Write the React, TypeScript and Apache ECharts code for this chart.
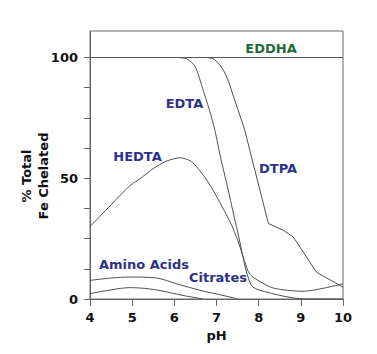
import React, { useEffect, useRef } from "react";
import * as echarts from "echarts";

const xTicks = [4, 5, 6, 7, 8, 9, 10];
const yLabelValues = [0, 50, 100];
const yTickValues = [0, 12.5, 25, 37.5, 50, 62.5, 75, 87.5, 100];

const eddha: [number, number][] = [[4, 100], [10, 100]];
const edta: [number, number][] = [
  [6.13, 100], [6.3, 99.4], [6.49, 96.4], [6.68, 86.7], [6.83, 78.4], [6.96, 70],
  [7.11, 57.6], [7.24, 48], [7.5, 28], [7.83, 5.6], [8.34, 2.2], [8.8, 0.5], [9.13, 0], [10, 0],
];
const hedta: [number, number][] = [
  [4, 30], [4.5, 39], [4.95, 47], [5.2, 50], [5.5, 54], [5.8, 57], [6.13, 58.5], [6.4, 57],
  [6.7, 51], [6.92, 45], [7.32, 32], [7.51, 24], [7.75, 11.5], [7.87, 9], [8.34, 4.6],
  [9.05, 3.2], [10, 6.3],
];
const dtpa: [number, number][] = [
  [6.8, 100], [6.92, 99.6], [7.0, 98.5], [7.1, 96.5], [7.2, 93.6], [7.3, 89.5], [7.4, 84],
  [7.51, 78.4], [7.67, 70], [7.87, 56], [7.91, 53.4], [8.23, 31.3], [8.58, 28.5], [8.82, 25.7],
  [8.98, 21.5], [9.37, 11.1], [10, 4.9],
];
const aminoAcids: [number, number][] = [
  [4, 7.7], [4.5, 8.7], [4.95, 9.1], [5.58, 8.7], [6.05, 6.3], [6.68, 3.3], [7.08, 1.8],
  [7.32, 0.8], [7.5, 0],
];
const citrates: [number, number][] = [
  [4, 2.2], [4.5, 3.8], [4.95, 4.7], [5.3, 4.4], [5.66, 3.5], [6.2, 1.5], [6.68, 0],
];

const FONT = "DejaVu Sans";
const LINE = "#505050";
const BLUE = "#2d3188";
const GREEN = "#1d6b3a";

export default function App() {
  const ref = useRef<HTMLDivElement>(null);
  useEffect(() => {
    if (!ref.current) return;
    const chart = echarts.init(ref.current, undefined, { renderer: "svg" });
    const lineSeries = (name: string, data: [number, number][], smooth: number | boolean) => ({
      name,
      type: "line",
      data,
      smooth,
      showSymbol: false,
      symbol: "none",
      lineStyle: { color: LINE, width: 1 },
      z: 3,
    });
    const label = (text: string, x: number, y: number, color: string) => ({
      type: "text",
      x,
      y,
      style: {
        text,
        fill: color,
        font: `bold 13px "${FONT}"`,
        align: "center",
        verticalAlign: "middle",
      },
      z: 10,
    });
    chart.setOption({
      animation: false,
      grid: {
        left: 90,
        right: 34,
        top: 31,
        bottom: 55,
        show: true,
        borderColor: "#666",
        borderWidth: 1,
        backgroundColor: "transparent",
      },
      xAxis: {
        type: "value",
        min: 4,
        max: 10,
        interval: 1,
        name: "pH",
        nameLocation: "middle",
        nameGap: 27,
        nameTextStyle: { fontFamily: FONT, fontWeight: "bold", fontSize: 13, color: "#111" },
        axisLine: { show: true, lineStyle: { color: "#666" } },
        axisTick: { show: true, length: 7, lineStyle: { color: "#666" } },
        axisLabel: {
          fontFamily: FONT,
          fontWeight: "bold",
          fontSize: 13,
          color: "#111",
          margin: 12,
          customValues: xTicks,
        },
        splitLine: { show: false },
      },
      yAxis: {
        type: "value",
        min: 0,
        max: 111,
        axisLine: { show: true, lineStyle: { color: "#666" } },
        axisTick: { show: true, length: 6, lineStyle: { color: "#666" }, customValues: yTickValues },
        axisLabel: {
          fontFamily: FONT,
          fontWeight: "bold",
          fontSize: 13,
          color: "#111",
          margin: 12,
          customValues: yLabelValues,
        },
        splitLine: { show: false },
      },
      series: [
        lineSeries("EDDHA", eddha, false),
        lineSeries("EDTA", edta, 0.25),
        lineSeries("HEDTA", hedta, 0.25),
        lineSeries("DTPA", dtpa, false),
        lineSeries("Amino Acids", aminoAcids, 0.3),
        lineSeries("Citrates", citrates, 0.3),
      ],
      graphic: [
        label("EDDHA", 271, 48, GREEN),
        label("EDTA", 184.5, 103, BLUE),
        label("HEDTA", 137.5, 156, BLUE),
        label("DTPA", 278, 168, BLUE),
        label("Amino Acids", 144, 264, BLUE),
        label("Citrates", 218, 277, BLUE),
        {
          type: "text",
          x: 35,
          y: 176,
          rotation: Math.PI / 2,
          style: {
            text: "% Total\nFe Chelated",
            fill: "#111",
            font: `bold 13px "${FONT}"`,
            lineHeight: 17,
            align: "center",
            verticalAlign: "middle",
          },
        },
      ],
    });
    return () => chart.dispose();
  }, []);
  return <div ref={ref} style={{ width: 377, height: 354, position: "absolute", left: 0, top: 0 }} />;
}
